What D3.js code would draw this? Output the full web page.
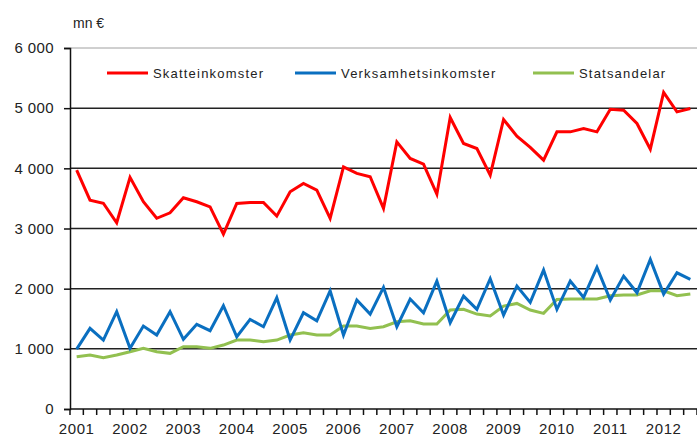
<!DOCTYPE html>
<meta charset="utf-8">
<style>
  body { margin: 0; background: #fff; }
  text { font-family: "Liberation Sans", Arial, sans-serif; fill: #222; }
</style>
<body>
<script src="https://cdn.jsdelivr.net/npm/d3@7"></script>
<script>

// quarterly values, 2001 Q1 .. 2012 Q3 (mn €)
var years = ["2001","2002","2003","2004","2005","2006","2007","2008","2009","2010","2011","2012"];

var skatteinkomster = [
  3970, 3470, 3420, 3095, 3850, 3445, 3170, 3260, 3510, 3445, 3360, 2907,
  3417, 3433, 3433, 3206, 3610, 3749, 3638, 3168, 4025, 3915, 3860, 3334,
  4440, 4164, 4070, 3571, 4845, 4413, 4330, 3887, 4812, 4535, 4347, 4136,
  4606, 4606, 4662, 4606, 4983, 4967, 4745, 4319, 5261, 4939, 4995];

var verksamhetsinkomster = [
   995, 1340, 1146, 1617, 1008, 1379, 1229, 1617, 1158, 1407, 1301, 1716,
  1201, 1490, 1367, 1849, 1146, 1600, 1467, 1965, 1229, 1811, 1578, 2022,
  1367, 1827, 1600, 2126, 1434, 1877, 1656, 2165, 1561, 2043, 1772, 2309,
  1656, 2126, 1855, 2354, 1811, 2209, 1932, 2487, 1910, 2264, 2154];

var statsandelar = [
   869,  897,  853,  897,  952, 1008,  952,  925, 1035, 1035, 1008, 1063,
  1146, 1146, 1118, 1146, 1229, 1268, 1229, 1229, 1379, 1379, 1340, 1367,
  1450, 1467, 1412, 1412, 1645, 1656, 1578, 1545, 1711, 1755, 1645, 1589,
  1822, 1827, 1827, 1827, 1882, 1894, 1894, 1965, 1965, 1882, 1910];

var series = [
  { name: "Skatteinkomster",      values: skatteinkomster,      color: "#ff0000" },
  { name: "Verksamhetsinkomster", values: verksamhetsinkomster, color: "#0a6fc0" },
  { name: "Statsandelar",         values: statsandelar,         color: "#92c050" }
];

var yTicks = [0, 1000, 2000, 3000, 4000, 5000, 6000];

const width = 697, height = 440;
var padLeft = 70, padRight = 697, padTop = 48, padBottom = 409;

var quarters = d3.range(skatteinkomster.length);

var xScale = d3.scaleBand().domain(quarters).range([padLeft, padRight]).padding(0);
var yScale = d3.scaleLinear().domain([0, 6000]).range([padBottom, padTop]);

var svg = d3.select("body").append("svg")
  .attr("width", width)
  .attr("height", height);

// top border
svg.append("line")
  .attr("x1", padLeft).attr("x2", padRight)
  .attr("y1", yScale(6000)).attr("y2", yScale(6000))
  .attr("stroke", "#a0a0a0").attr("stroke-width", 1);

// gridlines
svg.append("g").selectAll("line")
  .data(yTicks.filter(d => d > 0 && d < 6000))
  .enter().append("line")
    .attr("x1", padLeft).attr("x2", padRight)
    .attr("y1", d => yScale(d)).attr("y2", d => yScale(d))
    .attr("stroke", "#222").attr("stroke-width", 1.5);

// y axis
var yAxis = d3.axisLeft(yScale).tickValues(yTicks).tickSize(6).tickPadding(10)
  .tickFormat(d => d3.format(",")(d).replace(",", " "));
var gy = svg.append("g").attr("transform", `translate(${padLeft},0)`).call(yAxis);
gy.select(".domain").attr("stroke", "#111").attr("stroke-width", 1.5);
gy.selectAll(".tick line").attr("stroke", "#111").attr("stroke-width", 1.5);
gy.selectAll(".tick text")
  .style("font-size", "15px").style("letter-spacing", "0.4px")
  .style("font-family", "'Liberation Sans', Arial, sans-serif").attr("fill", "#222");

// x axis: ticks between quarters, labels on Q1
var gx = svg.append("g").attr("transform", `translate(0,${padBottom})`);
gx.append("line")
  .attr("x1", padLeft).attr("x2", padRight)
  .attr("stroke", "#111").attr("stroke-width", 1.5);
gx.selectAll(".qtick")
  .data(quarters.concat([quarters.length]))
  .enter().append("line")
    .attr("class", "qtick")
    .attr("x1", d => padLeft + d * xScale.bandwidth())
    .attr("x2", d => padLeft + d * xScale.bandwidth())
    .attr("y1", 0).attr("y2", 6)
    .attr("stroke", "#111").attr("stroke-width", 1.5);
gx.selectAll(".ylabel")
  .data(years)
  .enter().append("text")
    .attr("class", "ylabel")
    .attr("x", (d, i) => xScale(i * 4) + xScale.bandwidth() / 2)
    .attr("y", 25)
    .attr("text-anchor", "middle")
    .style("font-size", "15px")
    .style("letter-spacing", "0.6px")
    .text(d => d);

// unit label
svg.append("text")
  .attr("x", 73).attr("y", 28)
  .style("font-size", "14px")
  .text("mn €");

// lines
var line = d3.line()
  .x((d, i) => xScale(i) + xScale.bandwidth() / 2)
  .y(d => yScale(d));

svg.append("g").selectAll("path")
  .data(series.slice().reverse())
  .enter().append("path")
    .attr("d", d => line(d.values))
    .attr("fill", "none")
    .attr("stroke", d => d.color)
    .attr("stroke-width", 3)
    .attr("stroke-linejoin", "miter");

// legend
var legendX = [107, 295, 533];
var lg = svg.append("g").selectAll("g")
  .data(series)
  .enter().append("g")
    .attr("transform", (d, i) => `translate(${legendX[i]},73)`);
lg.append("line")
  .attr("x1", 0).attr("x2", 41)
  .attr("stroke", d => d.color).attr("stroke-width", 3);
lg.append("text")
  .attr("x", 46).attr("y", 5)
  .style("font-size", "13px")
  .style("letter-spacing", "1.2px")
  .text(d => d.name);

</script>
</body>
